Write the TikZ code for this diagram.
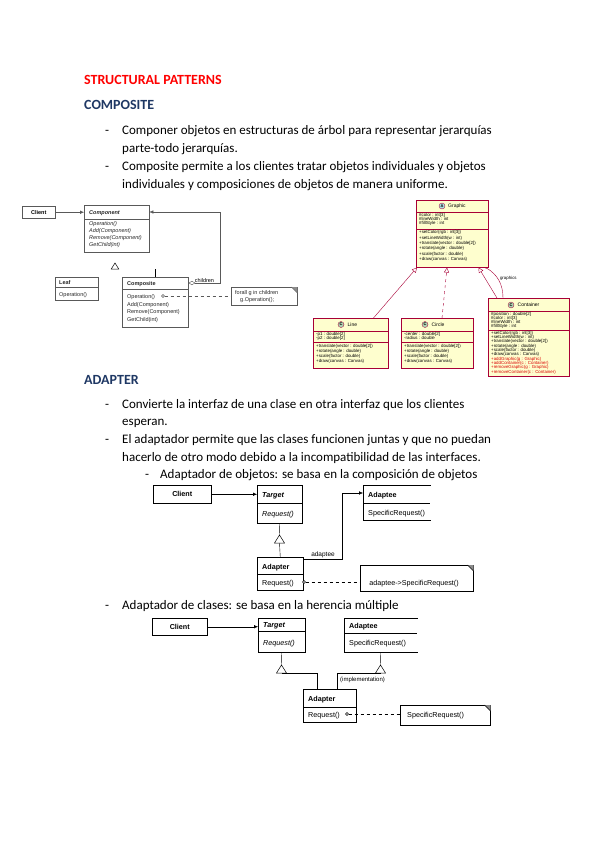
\documentclass[tikz,border=0pt]{standalone}
\usepackage{fontspec}
\setmainfont{Carlito}
\newfontfamily\umlfont{Liberation Sans}
\usetikzlibrary{arrows.meta,shadows}
\definecolor{headblue}{HTML}{1F3864}
\definecolor{pumlred}{HTML}{A80036}
\definecolor{pumlfill}{HTML}{FEFECE}
\definecolor{pumlbadgeA}{HTML}{A9DCDF}
\definecolor{pumlbadgeC}{HTML}{ADD1B2}

\begin{document}
\begin{tikzpicture}[x=1pt,y=-1pt,
        bodytext/.style={anchor=base west,inner sep=0pt,font=\fontsize{13}{15}\selectfont},
        heading/.style={anchor=base west,inner sep=0pt,font=\fontsize{14}{16}\selectfont\bfseries},
        gof/.style={draw=black!65,line width=0.4pt,fill=white,inner sep=0pt,anchor=north west,font=\umlfont\fontsize{5.5}{6}\selectfont},
        gofline/.style={draw=black!65,line width=0.4pt},
        gtxt/.style={anchor=base west,inner sep=0pt,text=black!85,font=\umlfont\fontsize{5.5}{6}\selectfont},
        abox/.style={draw=black,line width=0.5pt,fill=white,inner sep=0pt,anchor=north west,font=\umlfont\fontsize{7.2}{8}\selectfont},
        atxt/.style={anchor=base west,inner sep=0pt,font=\umlfont\fontsize{7.2}{8}\selectfont},
        puml/.style={draw=pumlred,line width=0.5pt,fill=pumlfill,inner sep=0pt,anchor=north west,
            drop shadow={shadow xshift=1.2pt,shadow yshift=-1.2pt,opacity=0.25}},
        pumlline/.style={draw=pumlred,line width=0.4pt},
        ptxt/.style={anchor=base west,inner sep=0pt,font=\umlfont\fontsize{4.4}{5}\selectfont},
        pname/.style={anchor=base west,inner sep=0pt,font=\umlfont\fontsize{5}{6}\selectfont},
        pbadge/.style={circle,draw=pumlred,line width=0.3pt,inner sep=0pt,minimum size=6pt,font=\umlfont\bfseries\fontsize{4}{4}\selectfont},
        opdot/.style={circle,draw,fill=white,inner sep=0pt,minimum size=3pt},
        fillarrow/.style={-{Latex[length=4pt,width=3.5pt]}},
        opentri/.style={-{Triangle[open,length=5pt,width=5pt]}},
        gen/.pic={
            \draw[fill=white,line width=0.5pt] (0,0) -- (-5,8) -- (5,8) -- cycle;
            \coordinate (-apex) at (0,0);
            \coordinate (-base) at (0,8);
        },
        dogear/.pic={
            \fill[black!45] (-6,0) -- (0,0) -- (0,6) -- cycle;
            \draw (-6,0) -- (0,6);
        }]
        \useasboundingbox (0,0) rectangle (599,848);

        % page text
        \path (84,85) node [heading,text=red] (hstruct) {STRUCTURAL PATTERNS};
        \path (84,110) node [heading,text=headblue] (hcomp) {COMPOSITE};
        \path (105,135) node [bodytext] (d1) {-};
        \path (122,135) node [bodytext] (l1) {Componer objetos en estructuras de árbol para representar jerarquías};
        \path (122,153) node [bodytext] (l2) {parte-todo jerarquías.};
        \path (105,170) node [bodytext] (d2) {-};
        \path (122,170) node [bodytext] (l3) {Composite permite a los clientes tratar objetos individuales y objetos};
        \path (122,188) node [bodytext] (l4) {individuales y composiciones de objetos de manera uniforme.};
        \path (84,384) node [heading,text=headblue] (hadapt) {ADAPTER};
        \path (105,408) node [bodytext] (d3) {-};
        \path (122,408) node [bodytext] (l5) {Convierte la interfaz de una clase en otra interfaz que los clientes};
        \path (122,425) node [bodytext] (l6) {esperan.};
        \path (105,443) node [bodytext] (d4) {-};
        \path (122,443) node [bodytext] (l7) {El adaptador permite que las clases funcionen juntas y que no puedan};
        \path (122,461) node [bodytext] (l8) {hacerlo de otro modo debido a la incompatibilidad de las interfaces.};
        \path (145,478) node [bodytext] (d5) {-};
        \path (160,478) node [bodytext] (l9) {Adaptador de objetos: se basa en la composición de objetos};
        \path (105,609) node [bodytext] (d6) {-};
        \path (122,609) node [bodytext] (l10) {Adaptador de clases: se basa en la herencia múltiple};

        % composite (GoF)
        \node [gof,minimum width=33,minimum height=12] (client) at (22,206) {\bfseries Client};
        \node [gof,minimum width=65,minimum height=47] (comp) at (84,205) {};
        \draw [gofline] (84,219) -- (149,219);
        \path (89,214) node [gtxt] (compn) {\bfseries\itshape Component};
        \foreach \m [count=\i] in {Operation(),Add(Component),Remove(Component),GetChild(int)}
            \path (89,{219+6.8*\i}) node [gtxt] (compm\i) {\itshape\m};
        \draw [gofline,fillarrow] (client.east) -- (client.east -| comp.west);
        \pic [scale=0.75] (tri1) at (115,263) {gen};
        \node [gof,minimum width=43,minimum height=23] (leaf) at (55,277) {};
        \draw [gofline] (55,287) -- (98,287);
        \path (59,284.5) node [gtxt] (leafn) {\bfseries Leaf};
        \path (59,296) node [gtxt] (leafm1) {Operation()};
        \node [gof,minimum width=66,minimum height=50] (compo) at (122,277) {};
        \draw [gofline] (122,289) -- (188,289);
        \path (127,285.5) node [gtxt] (compon) {\bfseries Composite};
        \foreach \m [count=\i] in {Operation(),Add(Component),Remove(Component),GetChild(int)}
            \path (127,{291+7.5*\i}) node [gtxt] (compom\i) {\m};
        \draw [line width=0.6pt] (compo.north) -- ++(0,-8);
        \draw [gofline,{Diamond[open,length=7pt,width=4pt]}-{Latex[length=4pt,width=3.5pt]}]
            ([yshift=-6pt]compo.north east) -- ++(32,0)
            node [midway,above=0.5pt,inner sep=0pt,font=\umlfont\fontsize{5.5}{6}\selectfont] (childl) {children}
            |- ([yshift=-7pt]comp.north east);
        \node [gof,minimum width=66,minimum height=18] (note1) at (231,287) {};
        \pic [draw=black!65] at (note1.north east) {dogear};
        \path (235,294.5) node [gtxt] (note1a) {forall g in children};
        \path (240,301.5) node [gtxt] (note1b) {g.Operation();};
        \node [opdot,draw=black!65] (opc1) at (163,296) {};
        \draw [gofline,dashed] (opc1) -- (opc1 -| note1.west);

        % composite (plantuml)
        \node [puml,minimum width=72,minimum height=67] (graphic) at (416,200) {};
        \draw [pumlline] (416,212) -- (488,212);
        \draw [pumlline] (416,229) -- (488,229);
        \node [pbadge,fill=pumlbadgeA] (graphicb) at (442,206) {A};
        \path (448,207.8) node [pname] (graphicn) {Graphic};
        \foreach \m [count=\i] in {{\#color : int[3]},{\#lineWidth : int},{\#fillStyle : int}}
            \path (419,{212+4.2*\i}) node [ptxt] (grapha\i) {\m};
        \foreach \m [count=\i] in {{+setColor(rgb : int[3])},{+setLineWidth(w : int)},{+translate(vector : double[2])},{+rotate(angle : double)},{+scale(factor : double)},{+draw(canvas : Canvas)}}
            \path (419,{228.5+5.3*\i}) node [ptxt] (graphm\i) {\m};

        \node [puml,minimum width=75,minimum height=50] (line) at (313,318) {};
        \draw [pumlline] (313,331) -- (388,331);
        \draw [pumlline] (313,342) -- (388,342);
        \node [pbadge,fill=pumlbadgeC] (lineb) at (341,324.5) {C};
        \path (347.5,326.3) node [pname] (linen) {Line};
        \foreach \m [count=\i] in {{-p1 : double[2]},{-p2 : double[2]}}
            \path (316,{331+4.3*\i}) node [ptxt] (linea\i) {\m};
        \foreach \m [count=\i] in {{+translate(vector : double[2])},{+rotate(angle : double)},{+scale(factor : double)},{+draw(canvas : Canvas)}}
            \path (316,{342+5*\i}) node [ptxt] (linem\i) {\m};

        \node [puml,minimum width=72,minimum height=50] (circ) at (401,318) {};
        \draw [pumlline] (401,331) -- (473,331);
        \draw [pumlline] (401,342) -- (473,342);
        \node [pbadge,fill=pumlbadgeC] (circb) at (425,324.5) {C};
        \path (431.5,326.3) node [pname] (circn) {Circle};
        \foreach \m [count=\i] in {{-center : double[2]},{-radius : double}}
            \path (404,{331+4.3*\i}) node [ptxt] (circa\i) {\m};
        \foreach \m [count=\i] in {{+translate(vector : double[2])},{+rotate(angle : double)},{+scale(factor : double)},{+draw(canvas : Canvas)}}
            \path (404,{342+5*\i}) node [ptxt] (circm\i) {\m};

        \node [puml,minimum width=81,minimum height=78] (cont) at (488,298) {};
        \draw [pumlline] (488,311) -- (569,311);
        \draw [pumlline] (488,330) -- (569,330);
        \node [pbadge,fill=pumlbadgeC] (contb) at (511,305) {C};
        \path (517.5,306.8) node [pname] (contn) {Container};
        \foreach \m [count=\i] in {{\#position : double[2]},{\#color : int[3]},{\#lineWidth : int},{\#fillStyle : int}}
            \path (491,{311+4.2*\i}) node [ptxt] (conta\i) {\m};
        \foreach \m [count=\i] in {{+setColor(rgb : int[3])},{+setLineWidth(w : int)},{+translate(vector : double[2])},{+rotate(angle : double)},{+scale(factor : double)},{+draw(canvas : Canvas)}}
            \path (491,{330+4.3*\i}) node [ptxt] (contm\i) {\m};
        \foreach \m [count=\i] in {{+addGraphic(g : Graphic)},{+addContainer(c : Container)},{+removeGraphic(g : Graphic)},{+removeContainer(c : Container)}}
            \path (491,{355.8+4.3*\i}) node [ptxt,text=red!85!black] (contr\i) {\m};

        \draw [pumlline,opentri] ([xshift=-15pt]line.north east) -- ([xshift=1pt]graphic.south west);
        \draw [pumlline,opentri,dashed] ([xshift=41pt]circ.north west) -- ([xshift=31pt]graphic.south west);
        \draw [pumlline,opentri] ([xshift=9pt]cont.north west) -- ([xshift=-10pt]graphic.south east);
        \draw [pumlline,-{Diamond[length=6pt,width=4pt]},{Circle[length=1.5pt]}-] ([xshift=-3pt]graphic.south east)
            to [bend left=30] node [pos=0.45,right=2pt,inner sep=0pt,font=\umlfont\fontsize{4.4}{5}\selectfont] (graphicsl) {graphics}
            ([xshift=15pt]cont.north west);

        % adapter de objetos
        \node [abox,minimum width=58,minimum height=18] (aclient) at (153,485) {\bfseries Client};
        \node [abox,minimum width=45,minimum height=38] (atarget) at (257,485) {};
        \draw (257,503) -- (302,503);
        \path (262,497) node [atxt] (atargetn) {\bfseries\itshape Target};
        \path (262,516) node [atxt] (atargetm1) {\itshape Request()};
        \draw [fillarrow] (aclient.east) -- (aclient.east -| atarget.west);
        \node [abox,minimum width=46,minimum height=33] (aadapter) at (257,557) {};
        \draw (257,574) -- (303,574);
        \path (262,569) node [atxt] (aadaptern) {\bfseries Adapter};
        \path (262,585.5) node [atxt] (aadapterm1) {Request()};
        \pic (tri2) at (279.5,535) {gen};
        \draw (atarget.south) -- (tri2-apex);
        \draw (tri2-base) -- (aadapter.north);
        \node [abox,draw=none,minimum width=67,minimum height=35] (aadaptee) at (363,485) {};
        \draw (aadaptee.north east) -- (aadaptee.north west) -- (aadaptee.south west) -- (aadaptee.south east);
        \draw (363,503) -- (430,503);
        \path (368,497) node [atxt] (aadapteen) {\bfseries Adaptee};
        \path (368,515) node [atxt] (aadapteem1) {SpecificRequest()};
        \draw [fillarrow] ([yshift=-2pt]aadapter.north east) -- ++(39,0)
            node [midway,above=1pt,inner sep=0pt,font=\umlfont\fontsize{6.5}{7}\selectfont] (adapteel) {adaptee}
            |- ([yshift=-8pt]aadaptee.north west);
        \node [abox,minimum width=113,minimum height=26] (note2) at (360,565) {};
        \pic at (note2.north east) {dogear};
        \path (414,585) node [atxt,anchor=base] (note2t) {adaptee->SpecificRequest()};
        \node [opdot] (opc2) at (304,582) {};
        \draw [dashed] (opc2) -- (opc2 -| note2.west);

        % adapter de clases
        \node [abox,minimum width=55,minimum height=17] (bclient) at (152,618) {\bfseries Client};
        \node [abox,minimum width=47,minimum height=34] (btarget) at (258,618) {};
        \draw (258,631) -- (305,631);
        \path (263,627.5) node [atxt] (btargetn) {\bfseries\itshape Target};
        \path (263,645) node [atxt] (btargetm1) {\itshape Request()};
        \draw [fillarrow] (bclient.east) -- (bclient.east -| btarget.west);
        \node [abox,draw=none,minimum width=73,minimum height=34] (badaptee) at (344,618) {};
        \draw (badaptee.north east) -- (badaptee.north west) -- (badaptee.south west) -- (badaptee.south east);
        \draw (344,633) -- (417,633);
        \path (349,628) node [atxt] (badapteen) {\bfseries Adaptee};
        \path (349,645) node [atxt] (badapteem1) {SpecificRequest()};
        \node [abox,minimum width=53,minimum height=33] (badapter) at (303,689) {};
        \draw (303,707) -- (356,707);
        \path (308,701.5) node [atxt] (badaptern) {\bfseries Adapter};
        \path (308,717) node [atxt] (badapterm1) {Request()};
        \pic (tri3) at (281.5,665) {gen};
        \pic (tri4) at (380.5,665) {gen};
        \draw (btarget.south) -- (tri3-apex);
        \draw (tri3-base) -| ([xshift=-12.5pt]badapter.north);
        \draw (badaptee.south) -- (tri4-apex);
        \draw (tri4-base) -| ([xshift=7.5pt]badapter.north);
        \path (340,681) node [atxt,font=\umlfont\fontsize{6}{7}\selectfont] (impll) {(implementation)};
        \node [abox,minimum width=90,minimum height=20] (note3) at (400,705) {};
        \pic at (note3.north east) {dogear};
        \path (407,717.5) node [atxt] (note3t) {SpecificRequest()};
        \node [opdot] (opc3) at (347,714) {};
        \draw [dashed] (opc3) -- (opc3 -| note3.west);
    \end{tikzpicture}
\end{document}
